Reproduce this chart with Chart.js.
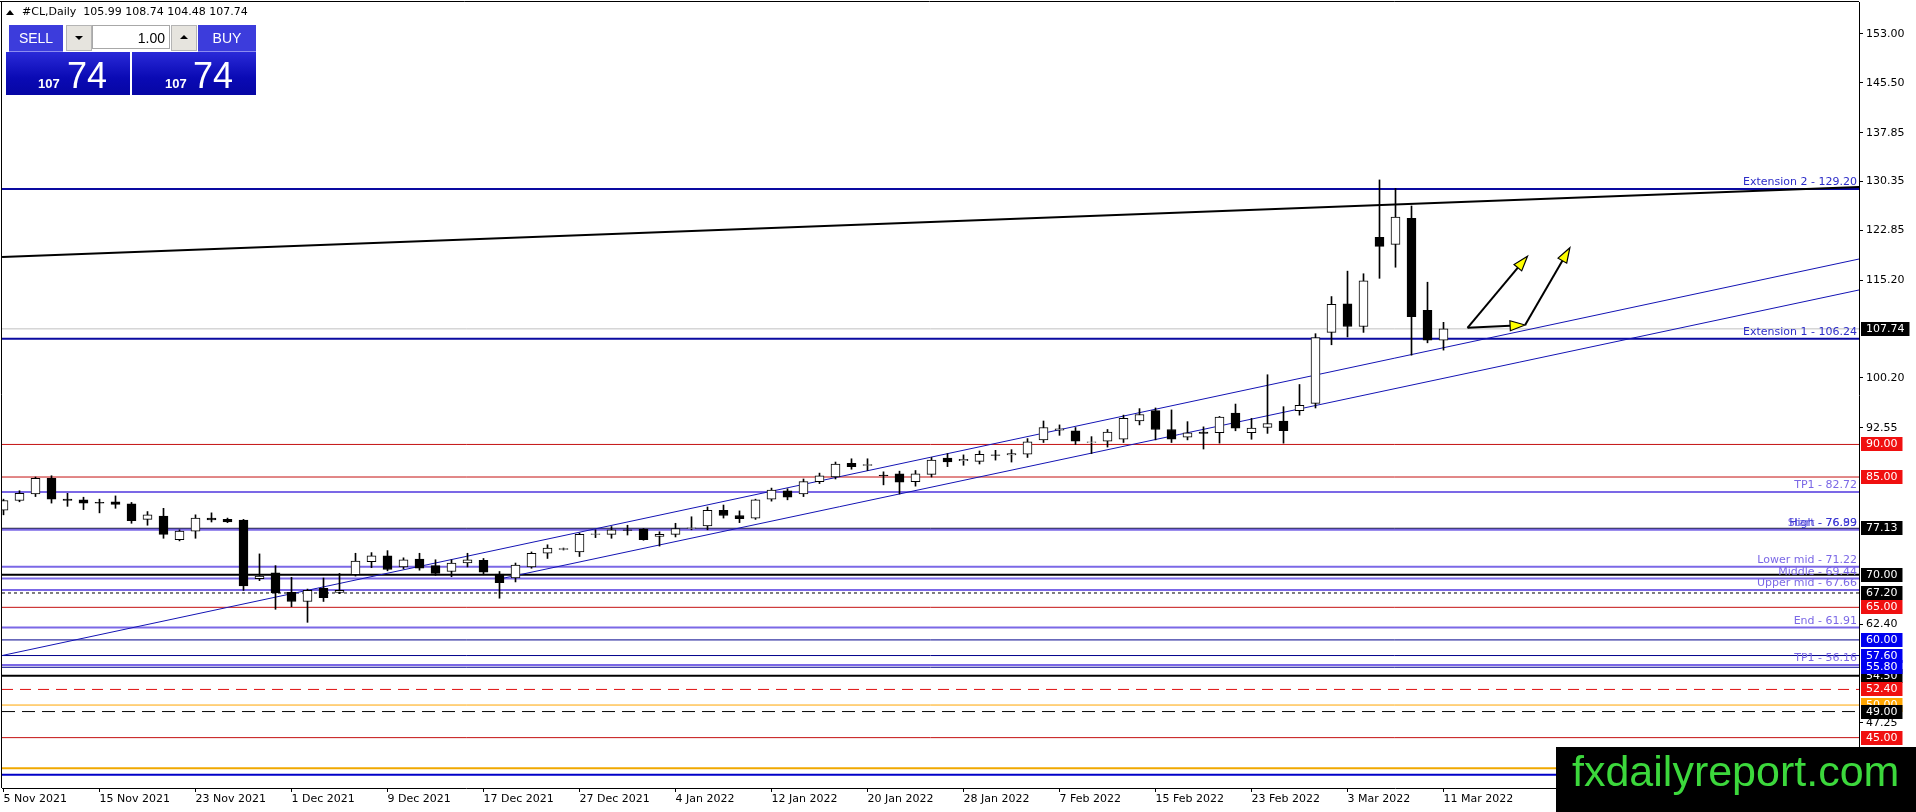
<!DOCTYPE html>
<html>
<head>
<meta charset="utf-8">
<script src="https://cdn.jsdelivr.net/npm/chart.js@4.4.1/dist/chart.umd.min.js"></script>
<style>
  html, body { margin: 0; padding: 0; background: #fff; overflow: hidden; }
  #wrap { position: relative; width: 1916px; height: 812px; }
  #c { position: absolute; left: 0; top: 0; }
  #hdr { position: absolute; left: 22px; top: 5px; font: 11px "DejaVu Sans"; color: #000; white-space: pre; }
  #tri { position: absolute; left: 6px; top: 10px; width: 0; height: 0;
         border-left: 4px solid transparent; border-right: 4px solid transparent; border-bottom: 5px solid #000; }
  .btn { position: absolute; top: 25px; height: 26px; background: #3c3cdc; color: #fff;
         font: 14px "Liberation Sans"; line-height: 26px; text-align: center; border-bottom: 1px solid #8c8cf0; }
  .pricePanel { position: absolute; top: 52px; width: 124px; height: 43px;
                background: linear-gradient(#2a2ad8, #0a0ab4 60%, #0606a4); color: #fff; }
  .pricePanel .big { position: absolute; bottom: 1px; font: 36px "Liberation Sans"; line-height: 36px; }
  .pricePanel .small { position: absolute; bottom: 4px; font: bold 13px "Liberation Sans"; }
  #spin { position: absolute; left: 66px; top: 25px; width: 131px; height: 25px; }
  .sbtn { position: absolute; top: 0; width: 24px; height: 24px; background: #e6e4de; border: 1px solid #b4b4b4; }
  .sbtn i { position: absolute; left: 8px; width: 0; height: 0; border-left: 4px solid transparent; border-right: 4px solid transparent; }
  #lots { position: absolute; left: 26px; top: 0; width: 78px; height: 24px; background: #fff; border: 1px solid #a8a8a8;
          font: 14px "Liberation Sans"; line-height: 24px; text-align: right; box-sizing: border-box; padding-right: 4px; }
</style>
</head>
<body>
<div id="wrap">
  <canvas id="c" width="1916" height="812"></canvas>
  <div id="tri"></div>
  <div id="hdr"></div>
  <div class="btn" style="left:9px;width:54px">SELL</div>
  <div id="spin">
    <div class="sbtn" style="left:0"><i style="top:10px;border-top:4px solid #000"></i></div>
    <div id="lots">1.00</div>
    <div class="sbtn" style="left:105px"><i style="top:9px;border-bottom:4px solid #000"></i></div>
  </div>
  <div class="btn" style="left:198px;width:58px">BUY</div>
  <div class="pricePanel" style="left:6px"><span class="small" style="left:32px" id="sellBig"></span><span class="big" style="left:61px" id="sellPts"></span></div>
  <div class="pricePanel" style="left:132px"><span class="small" style="left:33px" id="buyBig"></span><span class="big" style="left:61px" id="buyPts"></span></div>
</div>
<script>
// #CL Daily, 5 Nov 2021 .. 11 Mar 2022 (bar index = trading day)
const dateLabels = ["5 Nov 2021", "15 Nov 2021", "23 Nov 2021", "1 Dec 2021", "9 Dec 2021", "17 Dec 2021",
  "27 Dec 2021", "4 Jan 2022", "12 Jan 2022", "20 Jan 2022", "28 Jan 2022", "7 Feb 2022", "15 Feb 2022",
  "23 Feb 2022", "3 Mar 2022", "11 Mar 2022"];
const dateTickBars = [0, 6, 12, 18, 24, 30, 36, 42, 48, 54, 60, 66, 72, 78, 84, 90];
const yTickValues = [153.00, 145.50, 137.85, 130.35, 122.85, 115.20, 100.20, 92.55, 62.40, 47.25];

const opens = [79.9, 81.4, 82.4, 84.8, 81.6, 81.5, 81.1, 81.2, 80.9, 78.5,
  79.0, 75.4, 76.7, 78.7, 78.5, 78.4, 69.4, 70.3, 67.3, 65.9,
  67.9, 67.3, 70.0, 72.0, 72.9, 71.2, 72.4, 71.4, 70.5, 71.8,
  72.2, 70.1, 69.5, 71.2, 73.3, 73.9, 73.5, 76.2, 76.2, 76.9,
  77.0, 75.9, 76.2, 77.1, 77.5, 79.9, 79.1, 78.7, 81.6, 82.9,
  82.4, 84.3, 85.0, 87.1, 86.8, 85.3, 85.5, 84.3, 85.4, 87.9,
  87.5, 87.4, 88.4, 88.4, 88.5, 90.7, 92.2, 92.1, 90.3, 90.5,
  90.8, 93.6, 95.2, 92.3, 91.1, 91.9, 91.8, 94.8, 91.8, 92.6,
  93.6, 95.2, 96.3, 107.2, 111.6, 108.1, 121.8, 120.7, 124.7, 110.6,
  105.99];
const highs = [81.6, 82.9, 85.0, 85.2, 82.5, 81.9, 81.6, 82.1, 81.1, 79.7,
  80.2, 76.9, 79.2, 79.5, 78.7, 78.5, 73.2, 71.4, 69.6, 67.8,
  69.5, 70.2, 73.3, 73.4, 73.7, 72.6, 73.3, 72.3, 72.3, 73.3,
  72.5, 70.5, 71.8, 73.5, 74.6, 74.1, 76.4, 76.9, 77.4, 77.6,
  77.1, 76.6, 77.9, 78.9, 80.4, 80.7, 79.8, 81.6, 83.3, 83.2,
  84.7, 85.6, 87.3, 87.8, 87.8, 85.8, 85.9, 86.0, 88.0, 88.6,
  88.4, 89.0, 89.1, 89.2, 90.9, 93.6, 93.0, 92.6, 91.2, 92.3,
  94.5, 95.5, 95.6, 95.3, 93.5, 92.7, 94.3, 96.2, 94.0, 100.7,
  95.8, 99.2, 107.0, 112.7, 116.6, 116.2, 130.6, 129.3, 126.6, 114.9,
  108.74];
const lows = [79.2, 81.2, 82.0, 81.0, 80.5, 80.0, 79.5, 80.2, 77.9, 77.6,
  75.6, 75.2, 75.6, 78.1, 78.0, 67.6, 69.1, 64.7, 65.1, 62.7,
  65.9, 67.1, 69.8, 71.1, 70.6, 70.9, 70.7, 69.9, 69.7, 71.2,
  70.0, 66.4, 68.9, 71.0, 72.5, 73.8, 72.8, 75.7, 75.6, 76.1,
  75.3, 74.4, 75.8, 76.9, 76.9, 78.7, 78.0, 78.5, 81.3, 81.5,
  82.0, 84.0, 84.7, 86.2, 86.0, 83.8, 82.4, 83.6, 85.0, 86.6,
  86.8, 87.0, 87.6, 87.3, 88.0, 90.3, 91.4, 90.0, 88.6, 89.6,
  90.3, 93.0, 90.7, 90.3, 90.7, 89.3, 90.2, 92.1, 90.8, 91.7,
  90.2, 94.5, 95.6, 105.3, 106.5, 107.2, 115.5, 117.2, 103.7, 105.6,
  104.48];
const closes = [81.4, 82.5, 84.8, 81.6, 81.4, 81.0, 81.0, 80.8, 78.3, 79.2,
  76.2, 76.7, 78.7, 78.4, 78.1, 68.3, 69.8, 67.2, 65.9, 67.6,
  66.5, 67.6, 72.1, 72.9, 70.8, 72.3, 71.0, 70.2, 71.8, 72.3,
  70.4, 68.8, 71.5, 73.3, 74.1, 74.0, 76.2, 76.3, 76.9, 76.8,
  75.4, 76.2, 77.1, 77.2, 79.9, 79.1, 78.6, 81.5, 83.0, 81.9,
  84.3, 85.2, 87.0, 86.6, 86.9, 85.2, 84.2, 85.5, 87.6, 87.3,
  87.7, 88.5, 88.3, 88.6, 90.4, 92.6, 92.4, 90.5, 90.4, 91.9,
  94.0, 94.6, 92.3, 90.8, 91.8, 91.7, 94.2, 92.5, 92.5, 93.2,
  92.1, 96.0, 106.4, 111.5, 108.1, 115.1, 120.4, 124.9, 109.6, 106.0,
  107.74];

// horizontal objects on the chart
const levelPrices = [129.20, 107.74, 106.24, 90.00, 85.00, 82.72, 76.89, 76.99, 77.13, 71.22, 70.00, 69.44,
  67.66, 67.20, 65.00, 61.91, 60.00, 57.60, 56.16, 54.50, 55.80, 52.40, 50.00, 49.00, 45.00, 40.30, 39.30];
const levelKinds = ["ext", "bid", "ext", "red", "red", "fibo", "fibo", "navyTxt", "black", "fibo", "black2", "fibo",
  "fibo", "dot", "red", "fibo", "navy", "navy", "fibo", "black2", "navy", "redDash", "orange", "blackDash", "red",
  "orange2", "blue2"];
const levelTexts = ["Extension 2 - 129.20", "", "Extension 1 - 106.24", "", "", "TP1 - 82.72", "Start - 76.89",
  "High - 76.99", "", "Lower mid - 71.22", "", "Middle - 69.44", "Upper mid - 67.66", "", "", "End - 61.91", "", "",
  "TP1 - 56.16", "", "", "", "", "", "", "", ""];

// trend lines: [bar, price] end points
const trendTop = [[-0.09, 118.77], [115.97, 129.52]];
const channelUpper = [[-0.09, 57.60], [115.97, 118.46]];
const channelLower = [[31, 69.35], [115.97, 113.71]];

// arrows: [bar, price] from -> to
const arrowFrom = [[91.5, 107.9], [91.5, 107.9], [95.1, 108.33]];
const arrowTo = [[95.25, 118.9], [95.1, 108.33], [97.9, 120.2]];

const styles = {
  ext:       { color: "#0a0aa0", width: 2, text: "#2c2cc8" },
  bid:       { color: "#c0c0c0", width: 1, box: "#000000" },
  red:       { color: "#c41010", width: 1, box: "#f01010" },
  fibo:      { color: "#7b68e6", width: 2, text: "#7b68e6" },
  navy:      { color: "#00008b", width: 1, box: "#0000f0" },
  navyTxt:   { color: "#1a1aa0", width: 1, text: "#3a3ad0" },
  black:     { color: "#000000", width: 1, box: "#000000" },
  black2:    { color: "#000000", width: 2, box: "#000000" },
  dot:       { color: "#000000", width: 1, dash: [3, 3], box: "#000000" },
  redDash:   { color: "#e01010", width: 1, dash: [11, 7], box: "#f01010" },
  orange:    { color: "#ffa500", width: 1, box: "#ffa500" },
  blackDash: { color: "#000000", width: 1, dash: [13, 7], box: "#000000" },
  orange2:   { color: "#f0a800", width: 2 },
  blue2:     { color: "#0000c8", width: 2 },
};

const X_MIN = -0.09375, X_MAX = 115.96875;
const Y_MIN = 37.27, Y_MAX = 157.91;
const FONT = "DejaVu Sans";

const last = closes.length - 1;
document.getElementById("hdr").textContent = "#CL,Daily  " +
  [opens[last], highs[last], lows[last], closes[last]].map(v => v.toFixed(2)).join(" ");
const [big, pts] = closes[last].toFixed(2).split(".");
["sell", "buy"].forEach(s => {
  document.getElementById(s + "Big").textContent = big;
  document.getElementById(s + "Pts").textContent = pts;
});

const bars = opens.map((_, i) => i);

const datasets = [
  {
    type: "bar", order: 0, grouped: false, barThickness: 9,
    data: bars.map(i => ({ x: i, y: [opens[i], closes[i]] })),
    backgroundColor: bars.map(i => closes[i] >= opens[i] ? "#ffffff" : "#000000"),
    borderColor: "#000000", borderWidth: 1, borderSkipped: false,
  },
  {
    type: "bar", order: 1, grouped: false, barThickness: 1,
    data: bars.map(i => ({ x: i, y: [lows[i], highs[i]] })),
    backgroundColor: "#000000", borderWidth: 0,
  },
];

levelPrices.forEach((p, k) => {
  const st = styles[levelKinds[k]];
  datasets.push({
    type: "line", order: 3, data: [{ x: X_MIN, y: p }, { x: X_MAX, y: p }],
    borderColor: st.color, borderWidth: st.width, borderDash: st.dash || [], pointRadius: 0,
  });
});

[[trendTop, "#000000", 2], [channelUpper, "#1414b4", 1], [channelLower, "#1414b4", 1]].forEach(([pts, col, w]) => {
  datasets.push({
    type: "line", order: 2, data: pts.map(([x, y]) => ({ x, y })),
    borderColor: col, borderWidth: w, pointRadius: 0,
  });
});

const overlay = {
  id: "overlay",
  afterDatasetsDraw(chart) {
    const { ctx, chartArea: a, scales: { x, y } } = chart;
    ctx.save();
    // object descriptions
    ctx.font = "11px " + FONT;
    ctx.textAlign = "right";
    ctx.textBaseline = "bottom";
    levelPrices.forEach((p, k) => {
      if (!levelTexts[k]) return;
      ctx.fillStyle = styles[levelKinds[k]].text;
      ctx.fillText(levelTexts[k], a.right - 2, y.getPixelForValue(p) - 1);
    });
    // arrows
    arrowFrom.forEach((f, k) => {
      const x0 = x.getPixelForValue(f[0]), y0 = y.getPixelForValue(f[1]);
      const x1 = x.getPixelForValue(arrowTo[k][0]), y1 = y.getPixelForValue(arrowTo[k][1]);
      const ang = Math.atan2(y1 - y0, x1 - x0);
      const len = 15, hw = 5;
      const bx = x1 - Math.cos(ang) * len, by = y1 - Math.sin(ang) * len;
      ctx.strokeStyle = "#000"; ctx.lineWidth = 2;
      ctx.beginPath(); ctx.moveTo(x0, y0); ctx.lineTo(bx, by); ctx.stroke();
      ctx.beginPath();
      ctx.moveTo(x1, y1);
      ctx.lineTo(bx - Math.sin(ang) * hw, by + Math.cos(ang) * hw);
      ctx.lineTo(bx + Math.sin(ang) * hw, by - Math.cos(ang) * hw);
      ctx.closePath();
      ctx.fillStyle = "#ffff00"; ctx.fill();
      ctx.lineWidth = 1.2; ctx.stroke();
    });
    // frame
    ctx.strokeStyle = "#000"; ctx.lineWidth = 1;
    ctx.beginPath();
    ctx.moveTo(0, 1.5); ctx.lineTo(a.right, 1.5);
    ctx.moveTo(1.5, 1.5); ctx.lineTo(1.5, a.bottom);
    ctx.stroke();
    ctx.restore();
  },
  afterDraw(chart) {
    const { ctx, chartArea: a, scales: { y } } = chart;
    ctx.save();
    ctx.font = "11px " + FONT;
    ctx.textAlign = "left";
    ctx.textBaseline = "middle";
    levelPrices.forEach((p, k) => {
      const st = styles[levelKinds[k]];
      if (!st.box) return;
      const py = Math.round(y.getPixelForValue(p));
      const label = p.toFixed(2);
      ctx.fillStyle = st.box;
      ctx.fillRect(a.right + 2, py - 7, ctx.measureText(label).width + 10, 14);
      ctx.fillStyle = "#fff";
      ctx.fillText(label, a.right + 7, py + 0.5);
    });
    // watermark
    ctx.fillStyle = "#000";
    ctx.fillRect(1556, 747, 360, 65);
    ctx.fillStyle = "#3cd83c";
    ctx.font = "43px 'Liberation Sans'";
    ctx.textBaseline = "alphabetic";
    ctx.fillText("fxdailyreport.com", 1572, 786);
    ctx.restore();
  },
};

Chart.defaults.font.family = FONT;
new Chart(document.getElementById("c"), {
  type: "bar",
  data: { datasets },
  options: {
    responsive: false, animation: false, devicePixelRatio: 1,
    layout: { padding: { left: 2, top: 2, right: 0, bottom: 0 } },
    plugins: { legend: { display: false }, tooltip: { enabled: false } },
    scales: {
      x: {
        type: "linear", min: X_MIN, max: X_MAX, offset: false,
        afterBuildTicks: s => { s.ticks = dateTickBars.map(v => ({ value: v })); },
        afterFit: s => { s.height = 24; s.paddingLeft = 0; s.paddingRight = 0; },
        grid: { drawOnChartArea: false, tickLength: 4, color: "#000", offset: false },
        border: { color: "#000" },
        ticks: {
          autoSkip: false, maxRotation: 0, minRotation: 0, align: "start", padding: 1,
          color: "#000", font: { size: 11 },
          callback: v => dateLabels[dateTickBars.indexOf(v)],
        },
      },
      y: {
        type: "linear", position: "right", min: Y_MIN, max: Y_MAX,
        afterBuildTicks: s => { s.ticks = yTickValues.map(v => ({ value: v })); },
        afterFit: s => { s.width = 57; s.paddingTop = 0; s.paddingBottom = 0; },
        grid: { drawOnChartArea: false, tickLength: 4, color: "#000" },
        border: { color: "#000" },
        ticks: {
          autoSkip: false, padding: 3, color: "#000", font: { size: 11 },
          callback: v => v.toFixed(2),
        },
      },
    },
  },
  plugins: [overlay],
});
</script>
</body>
</html>
